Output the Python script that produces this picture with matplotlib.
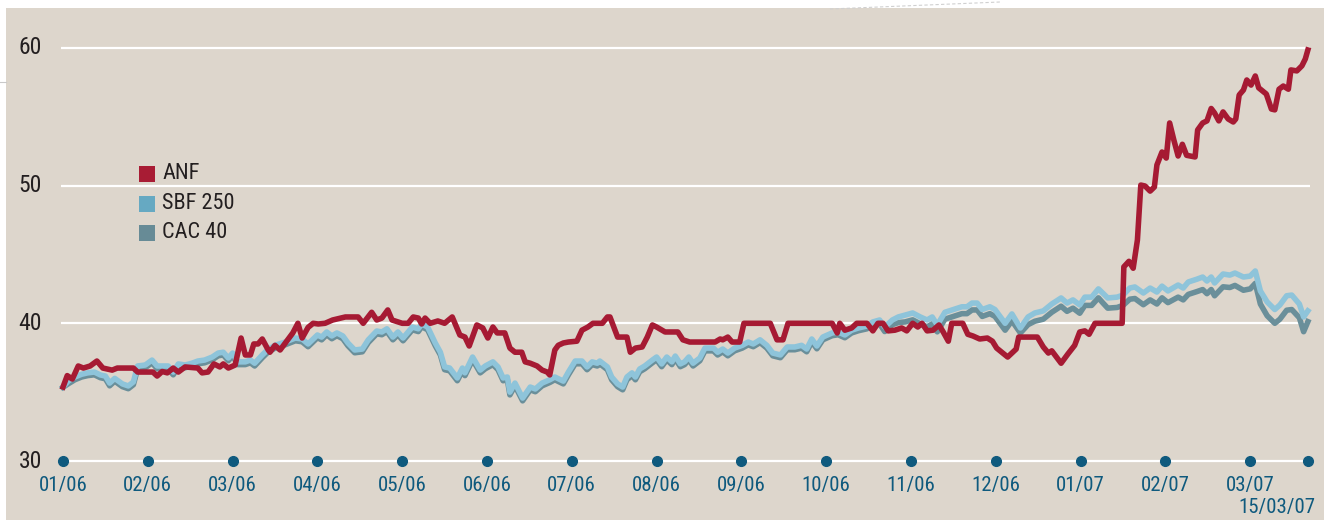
import matplotlib
matplotlib.use("Agg")
import matplotlib.pyplot as plt
import matplotlib.transforms as mtransforms
from matplotlib import font_manager
from matplotlib.patches import Rectangle
from matplotlib.lines import Line2D

# pick a narrow face if one is installed
installed = {f.name for f in font_manager.fontManager.ttflist}
font_stretch = 'normal'
font_name = 'Liberation Sans'
for cand in ['Liberation Sans Narrow', 'Roboto Condensed', 'Open Sans Condensed']:
    if cand in installed:
        font_name = cand
        break
else:
    if any(f.name == 'DejaVu Sans' and f.stretch == 'condensed' for f in font_manager.fontManager.ttflist):
        font_name = 'DejaVu Sans'
        font_stretch = 'condensed'
plt.rcParams['font.family'] = [font_name, 'DejaVu Sans']
plt.rcParams['font.stretch'] = font_stretch

# x positions in months since 01/06 (0 = 01/06, 14 = 03/07)
anf_x = [0.00, 0.05, 0.11, 0.18, 0.24, 0.32, 0.40, 0.47, 0.58, 0.64, 0.83, 0.88, 1.06, 1.11, 1.17, 1.23,
         1.30, 1.36, 1.44, 1.59, 1.64, 1.71, 1.78, 1.85, 1.89, 1.95, 2.03, 2.10, 2.15, 2.21, 2.25, 2.30,
         2.35, 2.42, 2.44, 2.50, 2.56, 2.65, 2.71, 2.77, 2.82, 2.89, 2.95, 3.01, 3.09, 3.18, 3.33, 3.48,
         3.54, 3.64, 3.70, 3.76, 3.83, 3.88, 4.00, 4.07, 4.13, 4.19, 4.23, 4.27, 4.33, 4.42, 4.50, 4.59,
         4.68, 4.74, 4.79, 4.88, 4.95, 5.01, 5.07, 5.12, 5.21, 5.27, 5.33, 5.41, 5.45, 5.51, 5.59, 5.65,
         5.71, 5.74, 5.80, 5.84, 5.90, 5.96, 6.06, 6.12, 6.19, 6.25, 6.36, 6.42, 6.45, 6.54, 6.65, 6.69,
         6.75, 6.83, 6.89, 6.95, 7.00, 7.10, 7.25, 7.31, 7.39, 7.69, 7.75, 7.78, 7.84, 7.89, 7.98, 8.03,
         8.34, 8.42, 8.49, 8.55, 9.07, 9.13, 9.16, 9.22, 9.30, 9.36, 9.48, 9.55, 9.61, 9.67, 9.73, 9.81,
         9.89, 9.95, 10.02, 10.08, 10.13, 10.19, 10.26, 10.33, 10.38, 10.44, 10.48, 10.61, 10.67, 10.73,
         10.81, 10.90, 10.96, 11.01, 11.07, 11.14, 11.19, 11.24, 11.27, 11.49, 11.56, 11.62, 11.66, 11.77,
         11.85, 11.93, 11.99, 12.05, 12.10, 12.17, 12.49, 12.51, 12.57, 12.62, 12.67, 12.71, 12.76, 12.82,
         12.87, 12.90, 12.96, 13.01, 13.05, 13.10, 13.15, 13.20, 13.25, 13.35, 13.38, 13.44, 13.49, 13.54,
         13.58, 13.63, 13.68, 13.74, 13.80, 13.83, 13.87, 13.92, 13.96, 14.01, 14.06, 14.10, 14.19, 14.25,
         14.29, 14.34, 14.39, 14.45, 14.48, 14.55, 14.61, 14.65, 14.68]
anf = [35.37, 36.2, 35.95, 36.9, 36.75, 36.9, 37.26, 36.75, 36.6, 36.75, 36.75, 36.46, 36.46, 36.17, 36.5, 36.4,
       36.75, 36.46, 36.83, 36.75, 36.4, 36.46, 37.05, 36.83, 37.05, 36.75, 36.97, 38.93, 37.7, 37.7, 38.5, 38.5,
       38.86, 38.06, 37.9, 38.4, 38.06, 38.8, 39.3, 40.0, 38.93, 39.7, 40.0, 39.95, 40.0, 40.24, 40.46, 40.46,
       40.0, 40.8, 40.24, 40.38, 40.97, 40.24, 40.0, 40.0, 40.46, 40.38, 39.95, 40.38, 40.0, 40.17, 40.0, 40.46,
       39.15, 39.0, 38.35, 39.88, 39.66, 38.93, 39.73, 39.3, 39.3, 38.2, 37.9, 37.9, 37.2, 37.1, 36.9, 36.6,
       36.46, 36.25, 38.06, 38.4, 38.57, 38.64, 38.7, 39.5, 39.73, 40.0, 40.0, 40.46, 40.46, 39.0, 39.0, 37.9,
       38.2, 38.28, 39.0, 39.88, 39.73, 39.37, 39.37, 38.8, 38.64, 38.64, 38.86, 38.8, 39.0, 38.64, 38.64, 40.0,
       40.0, 38.8, 38.8, 40.0, 40.0, 39.3, 40.0, 39.5, 39.66, 40.0, 40.0, 39.45, 40.0, 40.0, 39.45, 39.5,
       39.66, 39.45, 40.0, 39.73, 40.0, 39.45, 39.5, 39.88, 39.37, 38.7, 40.0, 40.0, 39.2, 39.08,
       38.86, 38.93, 38.7, 38.2, 37.9, 37.55, 37.84, 38.13, 39.0, 39.0, 38.28, 37.84, 38.0, 37.1,
       37.77, 38.4, 39.37, 39.45, 39.2, 40.0, 40.0, 44.1, 44.5, 44.0, 46.05, 50.04, 49.97, 49.6,
       49.9, 51.5, 52.44, 52.0, 54.55, 53.3, 52.15, 53.0, 52.2, 52.08, 54.04, 54.55, 54.7, 55.6,
       55.27, 54.7, 55.35, 54.84, 54.62, 54.84, 56.58, 56.94, 57.67, 57.3, 57.96, 57.1, 56.65, 55.56,
       55.5, 57.0, 57.23, 57.0, 58.4, 58.33, 58.7, 59.2, 59.85]

idx_x = [0.00, 0.06, 0.14, 0.22, 0.29, 0.37, 0.44, 0.50, 0.55, 0.61, 0.70, 0.77, 0.83, 0.88, 0.97, 1.05,
         1.11, 1.24, 1.30, 1.36, 1.44, 1.52, 1.59, 1.67, 1.76, 1.83, 1.89, 1.95, 2.00, 2.06, 2.15, 2.21,
         2.26, 2.35, 2.41, 2.50, 2.62, 2.74, 2.82, 2.89, 3.00, 3.05, 3.11, 3.17, 3.23, 3.30, 3.36, 3.44,
         3.53, 3.60, 3.70, 3.76, 3.82, 3.89, 3.95, 4.01, 4.12, 4.19, 4.23, 4.30, 4.39, 4.45, 4.50, 4.56,
         4.65, 4.71, 4.74, 4.83, 4.92, 4.98, 5.07, 5.13, 5.19, 5.24, 5.27, 5.33, 5.42, 5.51, 5.57, 5.65,
         5.74, 5.80, 5.90, 5.96, 6.04, 6.12, 6.18, 6.24, 6.30, 6.33, 6.42, 6.47, 6.54, 6.60, 6.65, 6.71,
         6.75, 6.80, 6.86, 6.95, 7.00, 7.06, 7.12, 7.18, 7.22, 7.28, 7.33, 7.38, 7.43, 7.51, 7.57, 7.67,
         7.72, 7.78, 7.84, 7.92, 8.01, 8.08, 8.14, 8.22, 8.30, 8.37, 8.46, 8.54, 8.63, 8.71, 8.77, 8.83,
         8.89, 8.96, 9.07, 9.14, 9.22, 9.30, 9.38, 9.48, 9.55, 9.63, 9.69, 9.78, 9.85, 9.93, 10.02, 10.11,
         10.19, 10.25, 10.31, 10.40, 10.50, 10.60, 10.66, 10.72, 10.78, 10.84, 10.93, 10.99, 11.11, 11.19,
         11.29, 11.38, 11.46, 11.56, 11.66, 11.77, 11.84, 11.91, 11.99, 12.05, 12.13, 12.21, 12.26, 12.32,
         12.43, 12.50, 12.58, 12.64, 12.74, 12.82, 12.90, 12.96, 13.03, 13.15, 13.21, 13.27, 13.37, 13.44,
         13.49, 13.54, 13.58, 13.68, 13.76, 13.82, 13.92, 14.00, 14.06, 14.12, 14.20, 14.29, 14.35, 14.43,
         14.49, 14.58, 14.63, 14.68]
sbf250 = [35.37, 35.8, 36.1, 36.3, 36.4, 36.46, 36.25, 36.17, 35.66, 36.0, 35.6, 35.45, 35.74, 36.9, 36.97, 37.33,
          36.9, 36.9, 36.46, 37.05, 36.97, 37.1, 37.26, 37.33, 37.55, 37.84, 37.9, 37.48, 37.84, 37.2, 37.2, 37.33,
          37.1, 37.7, 38.06, 38.4, 38.64, 38.93, 38.86, 38.5, 39.15, 39.0, 39.37, 39.08, 39.3, 39.08, 38.57, 38.06,
          38.13, 38.8, 39.44, 39.37, 39.6, 39.0, 39.37, 38.93, 39.73, 39.6, 39.95, 39.73, 38.57, 37.9, 36.83, 36.75,
          36.03, 36.75, 36.4, 37.55, 36.6, 36.9, 37.2, 36.83, 36.03, 36.1, 35.0, 35.66, 34.57, 35.37, 35.23, 35.66,
          35.9, 36.1, 35.8, 36.46, 37.26, 37.26, 36.83, 37.2, 37.1, 37.26, 36.83, 36.1, 35.6, 35.37, 36.1, 36.4,
          36.1, 36.68, 36.9, 37.33, 37.55, 37.05, 37.55, 37.2, 37.62, 37.05, 37.2, 37.55, 37.1, 37.48, 38.2, 38.2,
          37.9, 38.13, 37.84, 38.2, 38.4, 38.64, 38.5, 38.8, 38.4, 37.84, 37.7, 38.28, 38.28, 38.4, 38.13, 38.86,
          38.35, 39.0, 39.3, 39.37, 39.15, 39.5, 39.66, 39.8, 40.1, 40.24, 39.73, 40.24, 40.46, 40.6, 40.75, 40.46,
          40.24, 40.46, 39.88, 40.8, 41.0, 41.2, 41.2, 41.47, 41.47, 41.0, 41.2, 41.0, 40.0, 40.68,
          39.66, 40.46, 40.75, 40.9, 41.4, 41.84, 41.47, 41.7, 41.33, 41.9, 41.9, 42.5, 42.2, 41.84,
          41.9, 42.05, 42.56, 42.64, 42.2, 42.56, 42.27, 42.7, 42.35, 42.78, 42.56, 43.0, 43.2, 43.36,
          43.07, 43.36, 42.93, 43.58, 43.5, 43.65, 43.36, 43.43, 43.8, 42.35, 41.55, 41.0, 41.33, 42.0,
          42.05, 41.4, 40.46, 40.9]
cac40 = [35.35, 35.6, 35.9, 36.1, 36.2, 36.26, 36.05, 35.97, 35.46, 35.8, 35.4, 35.25, 35.54, 36.7, 36.77, 37.13,
         36.7, 36.7, 36.26, 36.85, 36.77, 36.9, 37.06, 37.13, 37.35, 37.64, 37.7, 37.28, 37.64, 37.0, 37.0, 37.13,
         36.9, 37.5, 37.86, 38.2, 38.44, 38.73, 38.66, 38.3, 38.95, 38.8, 39.17, 38.88, 39.1, 38.88, 38.37, 37.86,
         37.93, 38.6, 39.24, 39.17, 39.4, 38.8, 39.17, 38.73, 39.53, 39.4, 39.75, 39.53, 38.37, 37.7, 36.63, 36.55,
         35.83, 36.55, 36.2, 37.35, 36.4, 36.7, 37.0, 36.63, 35.83, 35.9, 34.8, 35.46, 34.37, 35.17, 35.03, 35.46,
         35.7, 35.9, 35.6, 36.26, 37.06, 37.06, 36.63, 37.0, 36.9, 37.06, 36.63, 35.9, 35.4, 35.17, 35.9, 36.2,
         35.9, 36.48, 36.7, 37.13, 37.35, 36.85, 37.35, 37.0, 37.42, 36.85, 37.0, 37.35, 36.9, 37.28, 38.0, 38.0,
         37.7, 37.93, 37.64, 38.0, 38.2, 38.44, 38.3, 38.6, 38.2, 37.64, 37.5, 38.08, 38.08, 38.2, 37.93, 38.66,
         38.15, 38.8, 39.1, 39.17, 38.95, 39.3, 39.46, 39.6, 39.85, 39.95, 39.4, 39.9, 40.05, 40.1, 40.25, 39.96,
         39.74, 39.96, 39.38, 40.3, 40.5, 40.7, 40.7, 40.97, 40.97, 40.5, 40.7, 40.5, 39.5, 40.18,
         39.3, 39.9, 40.15, 40.3, 40.8, 41.24, 40.87, 41.1, 40.73, 41.3, 41.3, 41.85, 41.5, 41.1,
         41.15, 41.3, 41.75, 41.8, 41.35, 41.7, 41.4, 41.85, 41.5, 41.9, 41.7, 42.1, 42.3, 42.45,
         42.15, 42.45, 42.0, 42.65, 42.6, 42.75, 42.4, 42.5, 42.9, 41.4, 40.55, 40.0, 40.3, 40.95,
         41.0, 40.4, 39.39, 40.12]

month_pos = list(range(15)) + [14.68]
month_labels = ['01/06', '02/06', '03/06', '04/06', '05/06', '06/06', '07/06', '08/06',
                '09/06', '10/06', '11/06', '12/06', '01/07', '02/07', '03/07', '15/03/07']
y_ticks = [30, 40, 50, 60]

names = ['ANF', 'SBF 250', 'CAC 40']
line_colors = ['#a61a33', '#8ec4da', '#6a8f9a']
key_colors = ['#a81c34', '#66a9c2', '#678b96']
bg = '#ddd6cc'
blue = '#0f5a7e'

W, H = 1324, 520
fig = plt.figure(figsize=(W / 100, H / 100), dpi=100)
fig.patch.set_facecolor('white')
fig.patches.append(Rectangle((6 / W, 0), 1, 1 - 8 / H, transform=fig.transFigure,
                             facecolor=bg, edgecolor='none', zorder=-5))
# faint guide lines outside the panel
fig.lines.append(Line2D([0, 6 / W], [1 - 82 / H, 1 - 82 / H], transform=fig.transFigure,
                        color='#c9c9c9', lw=0.8, zorder=-4))
fig.lines.append(Line2D([830 / W, 1000 / W], [1 - 9 / H, 1 - 2 / H], transform=fig.transFigure,
                        color='#d0d0d0', lw=0.8, ls=(0, (3, 2)), zorder=-4))

ax = fig.add_axes([0, 0, 1, 1])
ax.set_zorder(1)
ax.patch.set_visible(False)
ax.axis('off')
ax.set_xlim(-63 / 84.8, (W - 63) / 84.8)
ax.set_ylim(30 - 59 / 13.77, 30 + 461 / 13.77)

ax.hlines(y_ticks, -0.02, month_pos[-1] + 0.02, color='white', lw=1.6, zorder=1)

ax.plot(idx_x, cac40, color=line_colors[2], lw=4.0, solid_joinstyle='round', zorder=2)
ax.plot(idx_x, sbf250, color=line_colors[1], lw=4.0, solid_joinstyle='round', zorder=3)
ax.plot(anf_x, anf, color=line_colors[0], lw=4.0, solid_joinstyle='round', zorder=4)

ax.plot(month_pos, [30] * len(month_pos), 'o', color=blue, ms=7, zorder=5)

ty = mtransforms.blended_transform_factory(fig.transFigure, ax.transData)
for v in y_ticks:
    ax.text(42 / W, v, str(v), transform=ty, ha='right', va='center',
            fontsize=17, color='#231f20')

tx = mtransforms.blended_transform_factory(ax.transData, fig.transFigure)
for p, lab in zip(month_pos[:-1], month_labels[:-1]):
    ax.text(p, 1 - 486 / H, lab, transform=tx, ha='center', va='center',
            fontsize=15, color=blue)
ax.text(1315 / W, 1 - 507 / H, month_labels[-1], transform=fig.transFigure,
        ha='right', va='center', fontsize=15, color=blue)

for i, (name, c) in enumerate(zip(names, key_colors)):
    cy = 174 + 29.5 * i
    ax.add_patch(Rectangle((139 / W, 1 - (cy + 8) / H), 16 / W, 16 / H,
                           transform=fig.transFigure, facecolor=c, edgecolor='none', zorder=6))
    ax.text(162 / W, 1 - cy / H, name, transform=fig.transFigure, ha='left', va='center',
            fontsize=16, color='#231f20')

fig.savefig('out.png', dpi=100)
